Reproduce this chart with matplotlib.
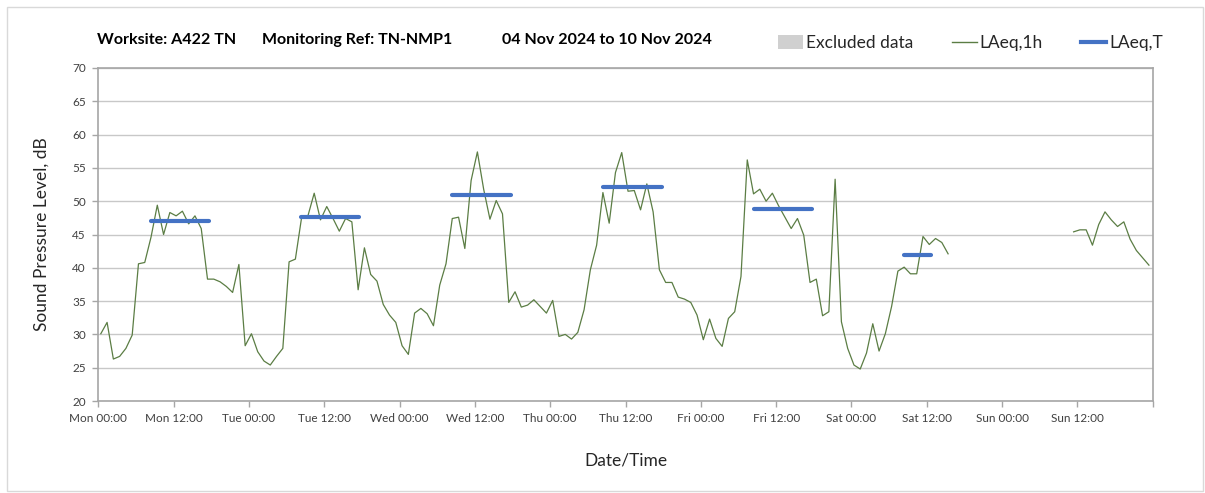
import numpy as np
import matplotlib as mpl
mpl.use('Agg')
import matplotlib.pyplot as plt
from matplotlib.patches import Patch, Rectangle
from matplotlib.lines import Line2D

fnt = 'Lato'
plt.rcParams['font.family'] = [fnt, 'DejaVu Sans']

# hourly LAeq,1h values, Mon 00:00 = hour 0 (hours 136-154 missing)
laeq1h_mon = [30.1, 31.8, 26.3, 26.7, 27.9, 29.9, 40.6, 40.8, 44.6, 49.4, 45.0, 48.3,
              47.8, 48.5, 46.6, 47.8, 45.9, 38.3, 38.3, 37.9, 37.2, 36.3, 40.5, 28.3]
laeq1h_tue = [30.1, 27.4, 26.0, 25.4, 26.7, 27.9, 40.9, 41.3, 47.6, 47.8, 51.2, 47.2,
              49.2, 47.4, 45.5, 47.4, 46.9, 36.7, 43.0, 39.0, 38.0, 34.5, 32.9, 31.8]
laeq1h_wed = [28.3, 27.0, 33.2, 33.9, 33.1, 31.3, 37.4, 40.6, 47.4, 47.6, 42.9, 53.1,
              57.4, 51.8, 47.3, 50.1, 48.1, 34.8, 36.4, 34.1, 34.4, 35.2, 34.2, 33.2]
laeq1h_thu = [35.1, 29.7, 30.0, 29.3, 30.3, 33.7, 39.7, 43.4, 51.3, 46.7, 54.3, 57.3,
              51.5, 51.6, 48.7, 52.6, 48.4, 39.7, 37.8, 37.8, 35.6, 35.3, 34.8, 32.9]
laeq1h_fri = [29.2, 32.3, 29.4, 28.2, 32.4, 33.4, 38.7, 56.2, 51.1, 51.8, 50.0, 51.2,
              49.3, 47.6, 45.9, 47.4, 44.9, 37.8, 38.3, 32.8, 33.4, 53.3, 31.9, 27.9]
laeq1h_sat = [25.4, 24.8, 27.2, 31.6, 27.5, 30.1, 34.2, 39.5, 40.1, 39.1, 39.1, 44.7,
              43.5, 44.4, 43.8, 42.1] + [np.nan] * 8
laeq1h_sun = [np.nan] * 11 + [45.4, 45.7, 45.7, 43.4, 46.5, 48.4, 47.2, 46.2, 46.9,
                              44.3, 42.6, 41.5, 40.4]

# LAeq,T daytime periods (day index, start hour, end hour, level)
laeqt_day = [0, 1, 2, 3, 4, 5]
laeqt_start = [8.35, 8.3, 8.3, 8.35, 8.4, 8.3]
laeqt_end = [17.7, 17.6, 17.7, 17.75, 17.7, 12.7]
laeqt_level = [47.1, 47.7, 51.0, 52.1, 48.9, 41.9]

xtick_labels = ['Mon 00:00', 'Mon 12:00', 'Tue 00:00', 'Tue 12:00', 'Wed 00:00',
                'Wed 12:00', 'Thu 00:00', 'Thu 12:00', 'Fri 00:00', 'Fri 12:00',
                'Sat 00:00', 'Sat 12:00', 'Sun 00:00', 'Sun 12:00', '']

title_parts = ['Worksite: A422 TN', 'Monitoring Ref: TN-NMP1', '04 Nov 2024 to 10 Nov 2024']

vals = np.array(laeq1h_mon + laeq1h_tue + laeq1h_wed + laeq1h_thu +
                laeq1h_fri + laeq1h_sat + laeq1h_sun)
hours = np.arange(len(vals)) + 0.4

W, H = 1205, 493
fig = plt.figure(figsize=(W / 100, H / 100), dpi=100)
ax = fig.add_axes([98.3 / W, 1 - 401 / H, (1152.7 - 98.3) / W, (401 - 68) / H])

green = '#5b7d44'
blue = '#4472c4'
ax.plot(hours, vals, color=green, lw=0.9)
for d, s, e, lv in zip(laeqt_day, laeqt_start, laeqt_end, laeqt_level):
    ax.plot([d * 24 + s, d * 24 + e], [lv, lv], color=blue, lw=3, solid_capstyle='round')

ax.set_xlim(0, 168)
ax.set_ylim(20, 70)
ax.set_yticks(np.arange(20, 71, 5))
ax.set_xticks(np.arange(0, 169, 12))
ax.set_xticklabels(xtick_labels)
ax.set_xticks(np.arange(0, 169, 24), minor=True)

ax.grid(axis='y', color='#c8c8c8', lw=1)
ax.grid(axis='x', which='minor', color='#dedede', lw=1)
ax.set_axisbelow(True)
for sp in ax.spines.values():
    sp.set_color('#a6a6a6')
    sp.set_linewidth(1.2)
ax.tick_params(axis='both', which='major', colors='#a6a6a6', labelcolor='#404040',
               labelsize=8.5, length=4, width=1)
ax.tick_params(axis='x', which='minor', length=0)
ax.tick_params(axis='y', pad=5)
ax.tick_params(axis='x', pad=5)

ax.set_ylabel('Sound Pressure Level, dB', fontsize=12.5, color='#262626', labelpad=16)
ax.set_xlabel('Date/Time', fontsize=12.5, color='#262626', labelpad=20)

# title pieces
for xp, txt in zip([97, 262, 502], title_parts):
    fig.text(xp / W, 1 - 40 / H, txt, fontsize=11.5, fontweight='bold', va='center', ha='left')

handles = [Patch(facecolor='#d0d0d0', edgecolor='none'),
           Line2D([], [], color=green, lw=1),
           Line2D([], [], color=blue, lw=3)]
fig.legend(handles, ['Excluded data', 'LAeq,1h', 'LAeq,T'], ncol=3, frameon=False,
           loc='center right', bbox_to_anchor=(1163 / W, 1 - 43 / H), fontsize=12.5,
           handlelength=1.45, handleheight=0.8, handletextpad=0.17, columnspacing=2.2,
           labelcolor='#262626', borderaxespad=0, borderpad=0)

fig.patches.append(Rectangle((7 / W, 1 - 491 / H), 1196 / W, 484 / H, transform=fig.transFigure,
                             fill=False, edgecolor='#d9d9d9', lw=1))

fig.savefig('out.png', dpi=100)
